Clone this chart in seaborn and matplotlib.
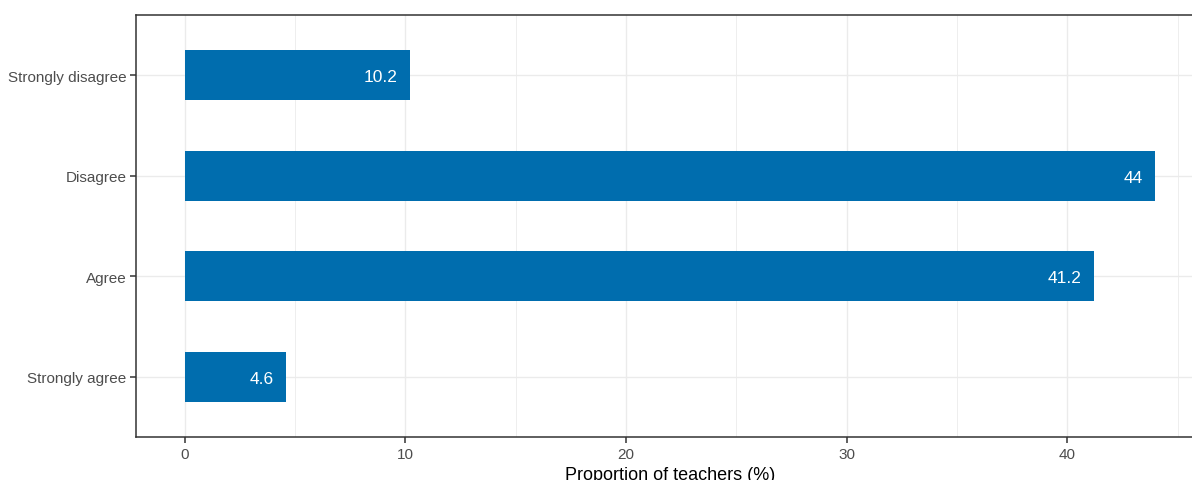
import matplotlib.pyplot as plt
import seaborn as sns
import pandas as pd

categories = ["Strongly disagree", "Disagree", "Agree", "Strongly agree"]
values = [10.2, 44, 41.2, 4.6]
labels = ["10.2", "44", "41.2", "4.6"]

df = pd.DataFrame({"response": categories, "pct": values})

sns.set_style("white")
plt.rcParams["font.family"] = ["Liberation Sans", "DejaVu Sans"]

W, H = 1192, 481
fig = plt.figure(figsize=(W / 100, H / 100), dpi=100)
# axes runs past the right edge like the cropped original
left, right, top, bottom = 136, 1204, 16, 438
ax = fig.add_axes([left / W, 1 - bottom / H, (right - left) / W, (bottom - top) / H])

sns.barplot(data=df, x="pct", y="response", order=categories, color="#006DAE",
            width=0.5, saturation=1, linewidth=0, ax=ax, zorder=3)

for i, (v, lab) in enumerate(zip(values, labels)):
    ax.text(v - 0.55, i, lab, ha="right", va="center_baseline", color="white",
            fontsize=12.5, zorder=4)

ax.set_xlim(-2.2, 46.2)
ax.set_ylim(3.6, -0.6)
ax.set_xticks([0, 10, 20, 30, 40])
ax.set_xticks([5, 15, 25, 35, 45], minor=True)
ax.grid(True, which="major", color="#EBEBEB", lw=1.0, zorder=0)
ax.grid(True, which="minor", axis="x", color="#EBEBEB", lw=0.6, zorder=0)
ax.set_axisbelow(True)

for s in ax.spines.values():
    s.set_color("#333333")
    s.set_linewidth(1.1)

ax.tick_params(axis="both", which="major", bottom=True, left=True, length=4, width=1.1,
               color="#333333", labelcolor="#4D4D4D", labelsize=11, pad=3)
ax.tick_params(axis="both", which="minor", length=0)
ax.set_ylabel("")
ax.set_xlabel("Proportion of teachers (%)", fontsize=13, color="black", labelpad=4)

fig.savefig("out.png", dpi=100)
